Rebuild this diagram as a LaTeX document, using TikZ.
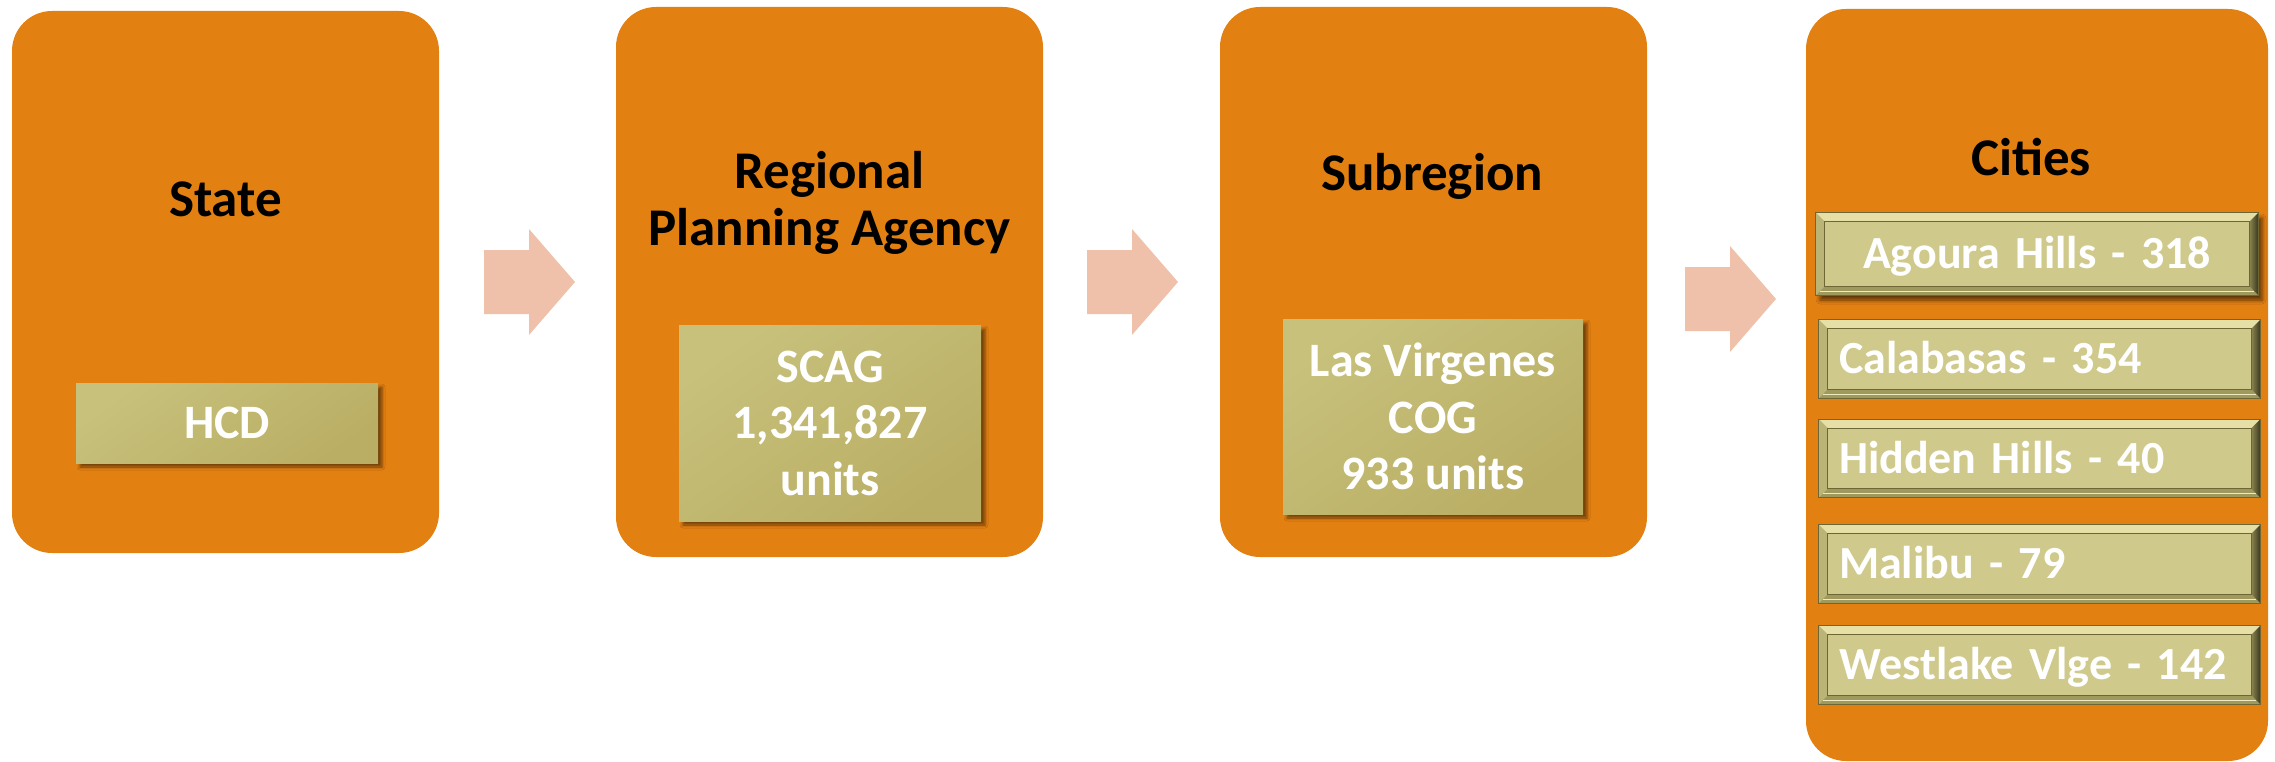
\documentclass[tikz,border=0pt]{standalone}
\usepackage{fontspec}
\setmainfont{Carlito}
\usetikzlibrary{shadows.blur}
\definecolor{boxorange}{RGB}{227,128,18}
\definecolor{arrowpeach}{RGB}{240,193,170}
\definecolor{oliveA}{RGB}{199,193,124}
\definecolor{oliveB}{RGB}{186,174,100}
\definecolor{cityface}{RGB}{207,201,140}
\definecolor{bevTop}{RGB}{230,224,166}
\definecolor{bevLeft}{RGB}{186,180,118}
\definecolor{bevBot}{RGB}{160,153,94}
\definecolor{bevRdark}{RGB}{58,56,32}
\definecolor{bevRlight}{RGB}{140,134,80}
\definecolor{bevEdge}{RGB}{110,102,52}
\newcommand\drawbevel[1]{%
  \fill[bevTop] (#1.north west) -- (#1.north east) -- ([xshift=-9pt,yshift=-9pt]#1.north east) -- ([xshift=9pt,yshift=-9pt]#1.north west) -- cycle;
  \fill[bevLeft] (#1.north west) -- ([xshift=9pt,yshift=-9pt]#1.north west) -- ([xshift=9pt,yshift=9pt]#1.south west) -- (#1.south west) -- cycle;
  \fill[bevBot] (#1.south west) -- ([xshift=9pt,yshift=9pt]#1.south west) -- ([xshift=-9pt,yshift=9pt]#1.south east) -- (#1.south east) -- cycle;
  \shade[left color=bevRlight, right color=bevRdark] (#1.north east) -- (#1.south east) -- ([xshift=-9pt,yshift=9pt]#1.south east) -- ([xshift=-9pt,yshift=-9pt]#1.north east) -- cycle;
  \draw[bevEdge, line width=1pt] ([xshift=9pt,yshift=-9pt]#1.north west) rectangle ([xshift=-9pt,yshift=9pt]#1.south east);
  \draw[bevTop!70!white, line width=1.2pt] ([xshift=4pt,yshift=4pt]#1.south west) -- ([xshift=-4pt,yshift=4pt]#1.south east);
  \draw[bevEdge, line width=1pt] (#1.north west) rectangle (#1.south east);
}
\begin{document}
\begin{tikzpicture}[x=1pt,y=-1pt,
  stage/.style={fill=boxorange, rounded corners=40pt, draw=none, inner sep=0pt},
  title/.style={font=\fontsize{53}{57}\selectfont\bfseries, text=black, align=center, inner sep=0pt},
  inbox/.style={top color=oliveA, bottom color=oliveB, shading angle=35, draw=none,
    blur shadow={shadow xshift=4pt, shadow yshift=-4pt, shadow blur radius=3pt, shadow opacity=50},
    font=\fontsize{48}{56.5}\selectfont\bfseries, text=white, align=center, inner sep=0pt},
  citybox/.style={fill=cityface, draw=none, minimum width=441pt, minimum height=78pt,
    font=\fontsize{46}{53}\selectfont\bfseries, text=white, text height=29pt, text depth=0pt,
    inner xsep=20pt, text width=401pt, align=left},
  blockarrow/.style={fill=arrowpeach, draw=none}
]
\useasboundingbox (0,0) rectangle (2275,762);
% big stage boxes
\node[stage, minimum width=427pt, minimum height=542pt] (state) at (225.5,282) {};
\node[stage, minimum width=427pt, minimum height=550pt] (region) at (829.5,282) {};
\node[stage, minimum width=427pt, minimum height=550pt] (subreg) at (1433.5,282) {};
\node[stage, minimum width=462pt, minimum height=752pt] (cities) at (2037,385) {};
% titles
\node[title, anchor=base] (statet) at (225.5,216) {State};
\node[title] (regiont) at (829.5,203) {Regional\\Planning Agency};
\node[title, anchor=base] (subregt) at (1432,191) {Subregion};
\node[title, anchor=base] (citiest) at (2031,176) {Cities};
% inner boxes
\node[inbox, minimum width=302pt, minimum height=80pt] (hcd) at (227,423) {HCD};
\node[inbox, minimum width=302pt, minimum height=196pt] (scag) at (830,423) {SCAG\\1,341,827\\units};
\node[inbox, minimum width=300pt, minimum height=195pt] (lvcog) at (1433,416.5) {Las Virgenes\\COG\\933 units};
% block arrows
\coordinate (a1) at (484,282);
\coordinate (a2) at (1087,282);
\coordinate (a3) at (1685,299);
\foreach \a in {a1,a2,a3}{
  \fill[blockarrow] ([yshift=32pt]\a) -- ++(45pt,0) -- ++(0,21pt) -- ++(46pt,-53pt) -- ++(-46pt,-53pt) -- ++(0,21pt) -- ++(-45pt,0) -- cycle;
}
% city boxes
\node[citybox, minimum width=442pt, minimum height=82pt, align=center,
  blur shadow={shadow xshift=4pt, shadow yshift=-5pt, shadow blur radius=4pt, shadow opacity=60}] (agoura) at (2037,254) {Agoura Hills - 318};
\drawbevel{agoura}
\node[citybox] (calabasas) at (2039.5,359) {Calabasas - 354};
\drawbevel{calabasas}
\node[citybox] (hidden) at (2039.5,458.5) {Hidden Hills - 40};
\drawbevel{hidden}
\node[citybox] (malibu) at (2039.5,564) {Malibu - 79};
\drawbevel{malibu}
\node[citybox] (westlake) at (2039.5,665) {Westlake Vlge - 142};
\drawbevel{westlake}
\end{tikzpicture}
\end{document}
